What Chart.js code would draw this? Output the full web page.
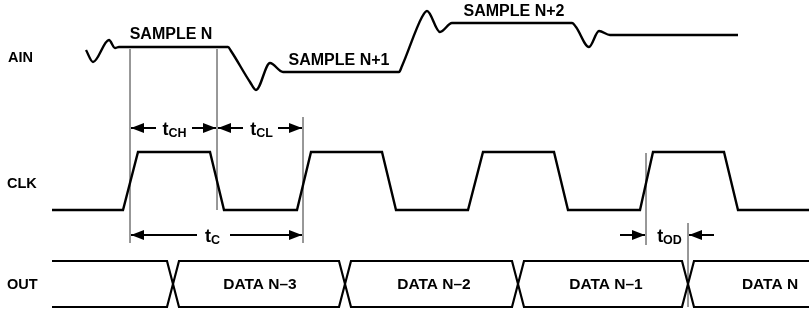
<!DOCTYPE html>
<html>
<head>
<meta charset="utf-8">
<script src="https://cdn.jsdelivr.net/npm/chart.js@4"></script>
<style>
  html, body { margin: 0; padding: 0; background: #fff; }
  #wrap { width: 809px; height: 309px; }
</style>
</head>
<body>
<div id="wrap"><canvas id="timing"></canvas></div>
<script>
// analog input, time vs level (diagram units)
const ainT = [86, 93, 109, 115, 119, 228, 231, 250, 256, 270, 283, 399, 402, 422, 427, 440, 452, 572, 576, 589, 599, 610, 738];
const ainV = [50, 62, 40, 48, 47, 47, 51, 82, 90, 63, 72, 72, 66, 17, 11, 32, 23, 23, 27, 47, 31, 35, 35];

// clock edges and logic levels
const clkT = [52, 123, 138, 210, 224, 297, 311, 382, 396, 468, 483, 554, 568, 640, 653, 724, 738, 809];
const clkL = [0, 0, 1, 1, 0, 0, 1, 1, 0, 0, 1, 1, 0, 0, 1, 1, 0, 0];

// output bus transitions
const outStart = 52, outEnd = 809, outHalf = 6;
const outCross = [173, 345, 518, 688];
const outNames = ['DATA N\u20133', 'DATA N\u20132', 'DATA N\u20131', 'DATA N'];
const outNameT = [260, 434, 606, 770];

// sample labels
const sampleNames = ['SAMPLE N', 'SAMPLE N+1', 'SAMPLE N+2'];
const sampleT = [171, 339, 514];
const sampleV = [35, 61, 12];

// marker lines (time, from, to)
const markT = [130, 217, 303, 646, 688];
const markFrom = [49, 49, 117, 153, 223];
const markTo = [243, 210, 243, 245, 307];

// dimension arrows (tail -> tip)
const arrowTail = [156, 192, 243, 278, 197, 230, 620, 714];
const arrowTip = [131, 216, 218, 302, 131, 302, 645, 689];
const arrowV = [128, 128, 128, 128, 235, 235, 235, 235];

// timing parameter names
const paramMain = ['t', 't', 't', 't'];
const paramSub = ['CH', 'CL', 'C', 'OD'];
const paramT = [174.5, 261.5, 212.5, 669.5];
const paramV = [128, 128, 235, 235];

const CLK_HI = 152, CLK_LO = 210;
const BUS_TOP = 261, BUS_BOT = 307;

const FONT = '"Liberation Sans", Arial, Helvetica, sans-serif';

const ainData = ainT.map((t, i) => ({ x: t, y: ainV[i] }));
const clkData = clkT.map((t, i) => ({ x: t, y: clkL[i] ? CLK_HI : CLK_LO }));

function busPath(startTop) {
  const pts = [];
  let top = startTop;
  pts.push({ x: outStart, y: top ? BUS_TOP : BUS_BOT });
  outCross.forEach(c => {
    pts.push({ x: c - outHalf, y: top ? BUS_TOP : BUS_BOT });
    top = !top;
    pts.push({ x: c + outHalf, y: top ? BUS_TOP : BUS_BOT });
  });
  pts.push({ x: outEnd, y: top ? BUS_TOP : BUS_BOT });
  return pts;
}

const traceStyle = {
  borderColor: '#000',
  borderWidth: 2.4,
  pointRadius: 0,
  fill: false,
  clip: false,
  borderJoinStyle: 'miter',
};

const datasets = [
  { ...traceStyle, data: ainData, cubicInterpolationMode: 'monotone' },
  { ...traceStyle, data: clkData },
  { ...traceStyle, borderWidth: 2.2, data: busPath(true) },
  { ...traceStyle, borderWidth: 2.2, data: busPath(false) },
];

arrowTail.forEach((t, i) => {
  datasets.push({ ...traceStyle, borderWidth: 2, data: [{ x: t, y: arrowV[i] }, { x: arrowTip[i], y: arrowV[i] }] });
});

markT.forEach((t, i) => {
  datasets.push({ ...traceStyle, borderColor: '#8a8a8a', borderWidth: 1, data: [{ x: t, y: markFrom[i] }, { x: t, y: markTo[i] }] });
});

const labelsPlugin = {
  id: 'labels',
  afterDatasetsDraw(chart) {
    const { ctx, scales: { x, y } } = chart;
    ctx.save();
    ctx.fillStyle = '#000';

    // arrow heads
    arrowTip.forEach((tip, i) => {
      const px = x.getPixelForValue(tip), py = y.getPixelForValue(arrowV[i]);
      const dir = tip > arrowTail[i] ? 1 : -1;
      ctx.beginPath();
      ctx.moveTo(px, py);
      ctx.lineTo(px - dir * 13, py - 5);
      ctx.lineTo(px - dir * 13, py + 5);
      ctx.closePath();
      ctx.fill();
    });

    // signal names
    ctx.font = 'bold 14.5px ' + FONT;
    ctx.textAlign = 'left';
    ctx.textBaseline = 'middle';
    ctx.fillText('AIN', x.getPixelForValue(8), y.getPixelForValue(57.5));
    ctx.fillText('CLK', x.getPixelForValue(7), y.getPixelForValue(184));
    ctx.fillText('OUT', x.getPixelForValue(7), y.getPixelForValue(285));

    ctx.textAlign = 'center';
    ctx.font = 'bold 16px ' + FONT;
    sampleNames.forEach((s, i) => {
      ctx.fillText(s, x.getPixelForValue(sampleT[i]), y.getPixelForValue(sampleV[i]));
    });

    ctx.font = 'bold 15.5px ' + FONT;
    outNames.forEach((s, i) => {
      ctx.fillText(s, x.getPixelForValue(outNameT[i]), y.getPixelForValue(285));
    });

    // t with subscript
    ctx.textBaseline = 'alphabetic';
    ctx.textAlign = 'left';
    paramSub.forEach((sub, i) => {
      ctx.font = 'bold 18px ' + FONT;
      const wm = ctx.measureText(paramMain[i]).width;
      ctx.font = 'bold 12.5px ' + FONT;
      const ws = ctx.measureText(sub).width;
      const cx = x.getPixelForValue(paramT[i]);
      const cy = y.getPixelForValue(paramV[i]);
      const left = cx - (wm + ws) / 2;
      ctx.font = 'bold 18px ' + FONT;
      ctx.fillText(paramMain[i], left, cy + 7);
      ctx.font = 'bold 12.5px ' + FONT;
      ctx.fillText(sub, left + wm, cy + 9);
    });
    ctx.restore();
  }
};

new Chart(document.getElementById('timing'), {
  type: 'line',
  data: { datasets },
  options: {
    responsive: true,
    maintainAspectRatio: false,
    animation: false,
    events: [],
    layout: { padding: 0 },
    scales: {
      x: { type: 'linear', min: 0, max: 809, display: false },
      y: { type: 'linear', min: 0, max: 309, reverse: true, display: false },
    },
    plugins: {
      legend: { display: false },
      tooltip: { enabled: false },
    },
  },
  plugins: [labelsPlugin],
});
</script>
</body>
</html>
